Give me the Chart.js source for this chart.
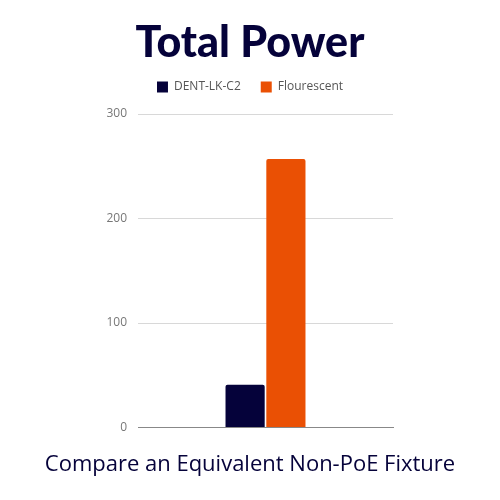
<!DOCTYPE html>
<html>
<head>
<meta charset="utf-8">
<script src="https://cdn.jsdelivr.net/npm/chart.js@4"></script>
<style>
  html, body { margin: 0; padding: 0; background: #fff; }
  #wrap { width: 500px; height: 500px; }
</style>
</head>
<body>
<div id="wrap"><canvas id="powerChart"></canvas></div>
<script>
// chart data
var categories = [''];
var dentValues = [41];
var flourescentValues = [257];
var yTicks = [0, 100, 200, 300];

var navy = '#05023a';
var orange = '#ea5004';
var bodyFont = "'Open Sans', sans-serif";

// push the plot down a bit below the legend
var legendGap = {
    id: 'legendGap',
    beforeInit: function(chart) {
        var fit = chart.legend.fit;
        chart.legend.fit = function() {
            fit.bind(chart.legend)();
            this.height += 11;
        };
    }
};

var ctx = document.getElementById('powerChart').getContext('2d');
var powerChart = new Chart(ctx, {
    type: 'bar',
    data: {
        labels: categories,
        datasets: [{
            label: 'DENT-LK-C2',
            data: dentValues,
            backgroundColor: navy,
            borderRadius: 2,
            barPercentage: 0.96,
            categoryPercentage: 0.32
        }, {
            label: 'Flourescent',
            data: flourescentValues,
            backgroundColor: orange,
            borderRadius: 2,
            barPercentage: 0.96,
            categoryPercentage: 0.32
        }]
    },
    plugins: [legendGap],
    options: {
        responsive: true,
        maintainAspectRatio: false,
        animation: false,
        layout: { padding: 0 },
        plugins: {
            title: {
                display: true,
                text: 'Total Power',
                color: navy,
                font: { family: 'Lato', size: 43, weight: '900', lineHeight: 1 },
                padding: { top: 22, bottom: -4 }
            },
            // bottom caption
            subtitle: {
                display: true,
                position: 'bottom',
                text: 'Compare an Equivalent Non-PoE Fixture',
                color: navy,
                font: { family: bodyFont, size: 22 },
                padding: { top: 16, bottom: 22 }
            },
            legend: {
                labels: {
                    color: '#555',
                    font: { family: bodyFont, size: 12 },
                    boxWidth: 11,
                    boxHeight: 11,
                    padding: 20
                }
            },
            tooltip: { enabled: false }
        },
        scales: {
            x: {
                grid: { display: false },
                border: { color: '#888' },
                ticks: { display: false }
            },
            y: {
                min: 0,
                max: 300,
                afterBuildTicks: function(axis) {
                    axis.ticks = yTicks.map(function(v) { return { value: v }; });
                },
                afterFit: function(axis) { axis.width = 138; },
                border: { display: false },
                grid: { color: '#d8d8d8', drawTicks: false },
                ticks: {
                    color: '#777',
                    font: { family: bodyFont, size: 12 },
                    padding: 11
                }
            },
            // empty right axis, only keeps the plot narrow
            yRight: {
                type: 'linear',
                position: 'right',
                grid: { display: false },
                border: { display: false },
                ticks: { display: false },
                afterFit: function(axis) { axis.width = 107; }
            }
        }
    }
});
</script>
</body>
</html>
